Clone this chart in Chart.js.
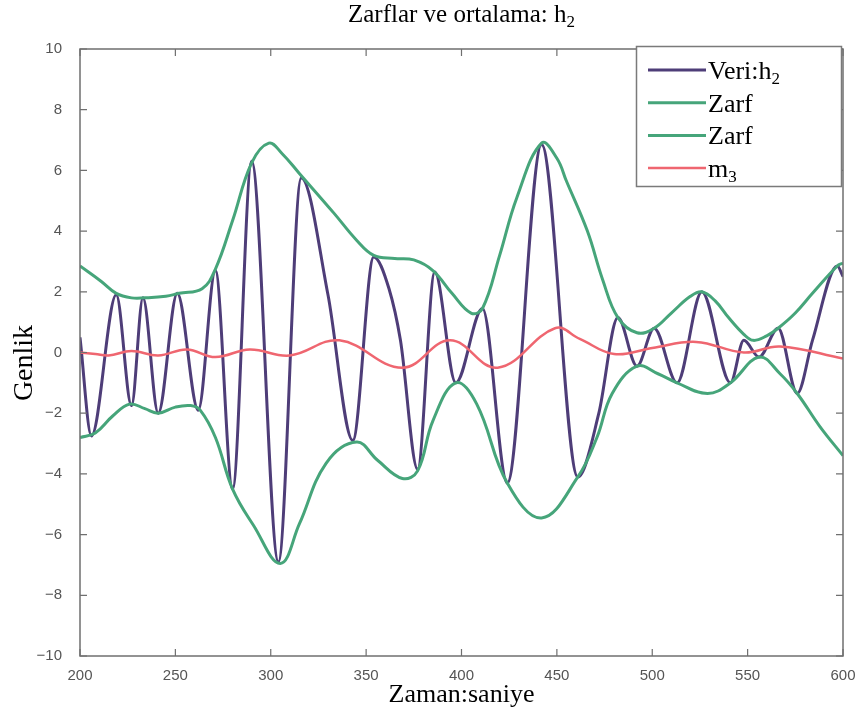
<!DOCTYPE html>
<html><head><meta charset="utf-8">
<script src="https://cdn.jsdelivr.net/npm/chart.js@4.4.1/dist/chart.umd.min.js"></script>
<style>html,body{margin:0;padding:0;background:#fff}#wrap{width:863px;height:715px}</style>
</head><body><div id="wrap"><canvas id="c" width="863" height="715"></canvas></div>
<script>
// ---- text ----
const chartTitle = 'Zarflar ve ortalama: h₂';
const xTitle = 'Zaman:saniye';
const yTitle = 'Genlik';
const seriesLabels = ['Veri:h₂', 'Zarf', 'Zarf', 'm₃'];

// ---- axis ticks ----
const xTicks = [200, 250, 300, 350, 400, 450, 500, 550, 600];
const yTicks = [-10, -8, -6, -4, -2, 0, 2, 4, 6, 8, 10];

// ---- data ----
const sigT = [200,206,219,227,233,241,251,262,271,280,290,304,316,330,343,354,362,368,377,386,397,411,424,442,461,472,482,492,501,513,526,541,548,556,566,576,584,597,600];
const sigV = [0.5,-2.75,1.9,-1.75,1.8,-2.0,1.95,-1.9,2.7,-4.5,6.3,-6.9,5.75,1.9,-2.9,3.15,2.1,0.4,-3.85,2.65,-1.0,1.45,-4.3,6.85,-4.1,-2.0,1.15,-0.45,0.8,-1.0,2.0,-1.0,0.4,-0.15,0.8,-1.35,0.4,2.85,2.5];

const upT = [200,211,219,227,234,245,252,264,271,280,290,299,306,315,333,345,354,365,375,385,395,405,411,420,429,442,450,455,466,474,482,492,501,510,520,526,533,540,548,553,560,566,575,584,597,600];
const upV = [2.85,2.35,1.95,1.8,1.8,1.85,1.95,2.1,2.75,4.35,6.25,6.9,6.55,5.9,4.6,3.7,3.2,3.1,3.05,2.7,1.95,1.3,1.45,3.2,5.1,6.9,6.4,5.65,4.0,2.4,1.15,0.65,0.8,1.3,1.85,2.0,1.7,1.15,0.6,0.4,0.55,0.8,1.3,1.95,2.85,2.95];

const loT = [200,208,217,226,234,241,250,258,263,271,280,291,305,315,329,345,356,369,377,385,397,408,424,442,461,471,479,492,503,513,529,541,556,567,576,588,600];
const loV = [-2.8,-2.65,-2.1,-1.7,-1.85,-2.0,-1.8,-1.75,-1.9,-2.8,-4.5,-5.7,-6.95,-5.65,-3.65,-2.95,-3.55,-4.15,-3.9,-2.25,-1.0,-1.7,-4.3,-5.45,-4.1,-2.8,-1.35,-0.45,-0.7,-1.0,-1.35,-1.0,-0.15,-0.7,-1.35,-2.45,-3.4];

const mT = [200,208,215,227,241,256,271,289,310,336,369,394,419,449,462,480,500,523,548,567,600];
const mV = [0.0,-0.05,-0.1,0.05,-0.1,0.1,-0.15,0.1,-0.1,0.4,-0.5,0.4,-0.5,0.8,0.45,-0.05,0.15,0.35,0.0,0.2,-0.2];

// ---- styles ----
const colors = ['#4e3d78', '#46a57a', '#46a57a', '#ef6670'];
const widths = [3, 3, 3, 2.5];
const SERIF = '"Liberation Serif", "Times New Roman", serif';
const SANS = '"Liberation Sans", Arial, sans-serif';

const pts = (t, v) => t.map((x, i) => ({x, y: v[i]}));
const seriesData = [pts(sigT, sigV), pts(upT, upV), pts(loT, loV), pts(mT, mV)];

const SUB = '₀₁₂₃₄₅₆₇₈₉';
function drawRich(ctx, str, x, y, size, align) {
  const runs = [];
  for (const ch of str) {
    const i = SUB.indexOf(ch);
    const sub = i >= 0;
    const c = sub ? String(i) : ch;
    if (runs.length && runs[runs.length - 1].sub === sub) runs[runs.length - 1].t += c;
    else runs.push({t: c, sub});
  }
  const fontFor = r => (r.sub ? Math.round(size * 0.66) : size) + 'px ' + SERIF;
  let w = 0;
  runs.forEach(r => { ctx.font = fontFor(r); r.w = ctx.measureText(r.t).width; w += r.w; });
  let cx = align === 'center' ? x - w / 2 : (align === 'right' ? x - w : x);
  ctx.textAlign = 'left';
  ctx.textBaseline = 'alphabetic';
  runs.forEach(r => { ctx.font = fontFor(r); ctx.fillText(r.t, cx, y + (r.sub ? size * 0.2 : 0)); cx += r.w; });
  return w;
}

const decor = {
  id: 'decor',
  afterDatasetsDraw(chart) {
    const ctx = chart.ctx, a = chart.chartArea;
    const xs = chart.scales.x, ys = chart.scales.y;
    ctx.save();
    ctx.strokeStyle = '#6f6f6f';
    ctx.lineWidth = 1.5;
    ctx.strokeRect(a.left, a.top, a.right - a.left, a.bottom - a.top);
    ctx.lineWidth = 1.2;
    ctx.beginPath();
    const tl = 7;
    xTicks.forEach(v => {
      const p = xs.getPixelForValue(v);
      ctx.moveTo(p, a.bottom); ctx.lineTo(p, a.bottom - tl);
      ctx.moveTo(p, a.top); ctx.lineTo(p, a.top + tl);
    });
    yTicks.forEach(v => {
      const p = ys.getPixelForValue(v);
      ctx.moveTo(a.left, p); ctx.lineTo(a.left + tl, p);
      ctx.moveTo(a.right, p); ctx.lineTo(a.right - tl, p);
    });
    ctx.stroke();
    ctx.restore();
  },
  afterDraw(chart) {
    const ctx = chart.ctx, a = chart.chartArea;
    ctx.save();
    ctx.fillStyle = '#000';
    const cx = (a.left + a.right) / 2;
    drawRich(ctx, chartTitle, cx, 22, 25, 'center');
    drawRich(ctx, xTitle, cx, 702, 26, 'center');
    ctx.save();
    ctx.translate(32, 363);
    ctx.rotate(-Math.PI / 2);
    drawRich(ctx, yTitle, 0, 0, 28, 'center');
    ctx.restore();
    // legend
    const bx = 636.5, by = 46.5, bw = 205, bh = 140;
    ctx.fillStyle = '#fff';
    ctx.fillRect(bx, by, bw, bh);
    ctx.strokeStyle = '#7a7a7a';
    ctx.lineWidth = 1.5;
    ctx.strokeRect(bx, by, bw, bh);
    const rowY = [70, 102.7, 135.4, 168];
    chart.data.datasets.forEach((ds, i) => {
      const y = rowY[i];
      ctx.strokeStyle = ds.borderColor;
      ctx.lineWidth = ds.borderWidth;
      ctx.beginPath(); ctx.moveTo(648, y); ctx.lineTo(706, y); ctx.stroke();
      ctx.fillStyle = '#000';
      drawRich(ctx, ds.label, 708, y + 9, 26, 'left');
    });
    ctx.restore();
  }
};

new Chart(document.getElementById('c'), {
  type: 'line',
  data: {
    datasets: seriesData.map((d, i) => ({
      label: seriesLabels[i],
      data: d,
      borderColor: colors[i],
      backgroundColor: colors[i],
      borderWidth: widths[i],
      pointRadius: 0,
      fill: false,
      cubicInterpolationMode: i === 0 ? 'monotone' : 'default',
      tension: 0.4,
      order: 4 - i
    }))
  },
  options: {
    responsive: false,
    animation: false,
    layout: {padding: {top: 49, right: 20, left: 0, bottom: 0}},
    plugins: {legend: {display: false}, title: {display: false}, tooltip: {enabled: false}},
    scales: {
      x: {
        type: 'linear', min: 200, max: 600,
        afterBuildTicks: s => { s.ticks = xTicks.map(v => ({value: v})); },
        afterFit: s => { s.height = 59; },
        grid: {display: false},
        border: {display: false},
        ticks: {font: {family: SANS, size: 15}, color: '#555', padding: 3, maxRotation: 0}
      },
      y: {
        type: 'linear', min: -10, max: 10,
        afterBuildTicks: s => { s.ticks = yTicks.map(v => ({value: v})); },
        afterFit: s => { s.width = 80; },
        grid: {display: false},
        border: {display: false},
        ticks: {font: {family: SANS, size: 15}, color: '#555', padding: 10,
          callback: v => (v < 0 ? '−' + Math.abs(v) : String(v))}
      }
    }
  },
  plugins: [decor]
});
</script>
</body></html>
